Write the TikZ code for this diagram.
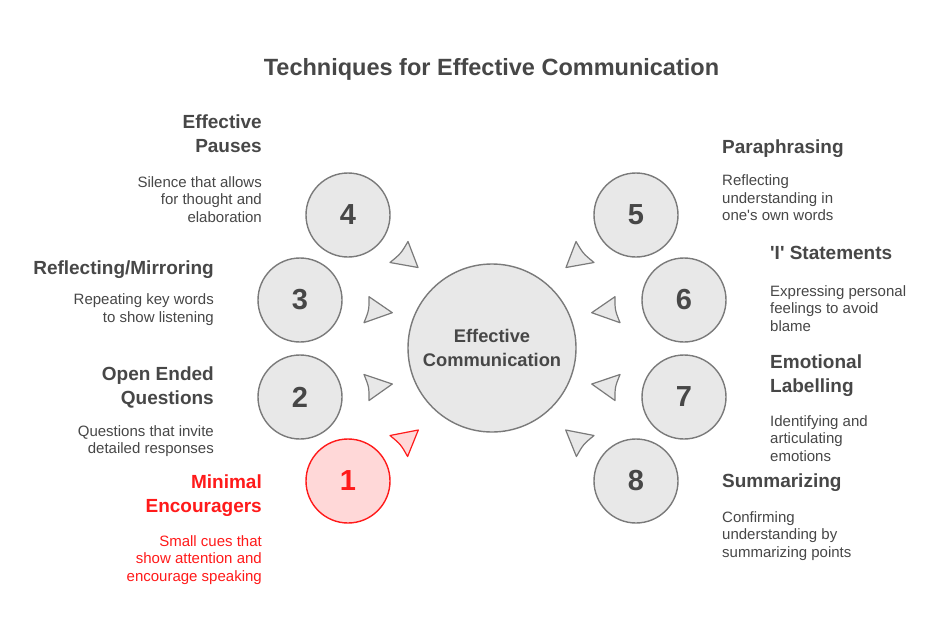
\documentclass[tikz,border=0pt]{standalone}
\usepackage{fontspec}
\setmainfont{Liberation Sans}[Ligatures=TeXOff]
\usetikzlibrary{calc}
\definecolor{txt}{HTML}{474747}
\definecolor{cfill}{HTML}{E8E8E8}
\definecolor{cline}{HTML}{7A7A7A}
\definecolor{hred}{HTML}{FF1A1A}
\definecolor{hfill}{HTML}{FFD8D8}
\newcommand{\arrtri}[4]{\draw[#4] (#3) -- (#1) .. controls ($(#1)!0.5!(#2)!0.1!(#3)$) .. (#2) -- cycle;}
\tikzset{
  sat/.style={circle, draw=cline, fill=cfill, line width=1.4pt, minimum size=84, inner sep=0pt,
    text=txt, font=\fontsize{29}{29}\selectfont\bfseries},
  satred/.style={sat, draw=hred, fill=hfill, text=hred},
  hub/.style={circle, draw=cline, fill=cfill, line width=1.4pt, minimum size=168, inner sep=0pt,
    text=txt, align=center, font=\fontsize{18.3}{23.5}\selectfont\bfseries},
  tri/.style={draw=cline, fill=cfill, line width=1.2pt, line join=round},
  trired/.style={draw=hred, fill=hfill, line width=1.2pt, line join=round},
  ttl/.style={inner sep=0pt, text=txt, font=\fontsize{19}{24}\selectfont\bfseries},
  dsc/.style={inner sep=0pt, text=txt, font=\fontsize{15}{17.6}\selectfont},
  lft/.style={anchor=base east, align=right},
  rgt/.style={anchor=base west, align=left},
}
\begin{document}
\begin{tikzpicture}[x=1pt,y=-1pt]
\useasboundingbox[fill=white] (0,0) rectangle (949,637);

\node[inner sep=0pt, text=txt, anchor=base, font=\fontsize{23.5}{28}\selectfont\bfseries] (title) at (491.5,75) {Techniques for Effective Communication};

\node[hub] (hub) at (492,348) {Effective\\Communication};

\node[sat] (n4) at (348,215) {4};
\node[sat] (n3) at (300,300) {3};
\node[sat] (n2) at (300,397) {2};
\node[satred] (n1) at (348,481) {1};
\node[sat] (n5) at (636,215) {5};
\node[sat] (n6) at (684,300) {6};
\node[sat] (n7) at (684,397) {7};
\node[sat] (n8) at (636,481) {8};

% arrowheads (base a, base b, tip)
\arrtri{408,241.5}{390,262.5}{418,267.5}{tri}
\arrtri{369,296.7}{364,322.7}{392.3,312.7}{tri}
\arrtri{364,374.5}{369,400.5}{392.3,384}{tri}
\arrtri{390,435.5}{407.6,456.5}{418.3,430}{trired}
\arrtri{576,241.5}{594,262.5}{566,267.5}{tri}
\arrtri{615,296.7}{620,322.7}{591.7,312.7}{tri}
\arrtri{620,374.5}{615,400.5}{591.7,384}{tri}
\arrtri{594,435.5}{576.4,456.5}{565.7,430}{tri}

% left labels (anchor at baseline of last line)
\node[ttl,lft] (t4) at (262,152) {Effective\\Pauses};
\node[dsc,lft] (d4) at (262,222.2) {Silence that allows\\for thought and\\elaboration};
\node[ttl,lft] (t3) at (214,274) {Reflecting/Mirroring};
\node[dsc,lft] (d3) at (214,322.1) {Repeating key words\\to show listening};
\node[ttl,lft] (t2) at (214,404.5) {Open Ended\\Questions};
\node[dsc,lft] (d2) at (214,453.6) {Questions that invite\\detailed responses};
\node[ttl,lft,text=hred] (t1) at (262,512) {Minimal\\Encouragers};
\node[dsc,lft,text=hred] (d1) at (262,581.2) {Small cues that\\show attention and\\encourage speaking};

% right labels
\node[ttl,rgt] (t5) at (722,153) {Paraphrasing};
\node[dsc,rgt] (d5) at (722,220.7) {Reflecting\\understanding in\\one's own words};
\node[ttl,rgt] (t6) at (770,259.5) {'I' Statements};
\node[dsc,rgt] (d6) at (770,331.2) {Expressing personal\\feelings to avoid\\blame};
\node[ttl,rgt] (t7) at (770,392.5) {Emotional\\Labelling};
\node[dsc,rgt] (d7) at (770,461.2) {Identifying and\\articulating\\emotions};
\node[ttl,rgt] (t8) at (722,487.5) {Summarizing};
\node[dsc,rgt] (d8) at (722,557.2) {Confirming\\understanding by\\summarizing points};
\end{tikzpicture}
\end{document}
